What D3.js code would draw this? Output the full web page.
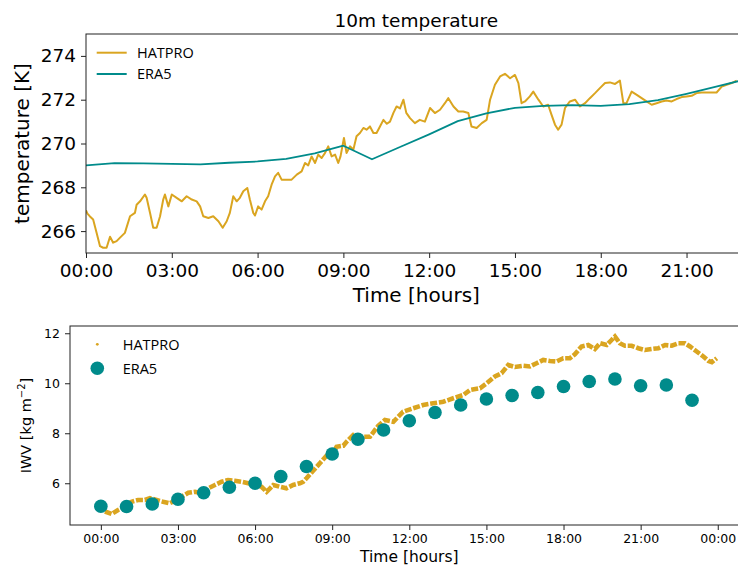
<!DOCTYPE html>
<html>
<head>
<meta charset="utf-8">
<script src="https://cdn.jsdelivr.net/npm/d3@7"></script>
<style>
  body { margin: 0; background: #fff; }
  svg { display: block; font-family: "DejaVu Sans", sans-serif; }
  .tick text { fill: #000; }
  .tick line { stroke: #222; }
</style>
</head>
<body>
<svg id="fig" width="738" height="571"></svg>
<script>
// ---- 10 m temperature (K) ----
const tempHatproHours = [0.00,0.05,0.13,0.25,0.37,0.49,0.60,0.72,0.84,0.95,1.07,1.19,1.36,1.54,1.71,1.77,1.89,2.06,2.12,2.24,2.35,2.47,2.59,2.70,2.76,2.88,3.00,3.17,3.35,3.52,3.70,3.87,3.99,4.10,4.28,4.45,4.63,4.78,4.92,5.03,5.15,5.27,5.38,5.50,5.64,5.73,5.85,5.91,6.02,6.14,6.26,6.37,6.49,6.61,6.72,6.84,7.02,7.19,7.37,7.54,7.66,7.77,7.89,8.01,8.12,8.24,8.36,8.47,8.59,8.71,8.82,8.90,9.02,9.11,9.23,9.35,9.46,9.58,9.70,9.81,9.93,10.05,10.16,10.28,10.40,10.52,10.63,10.75,10.86,10.98,11.10,11.20,11.33,11.50,11.67,11.85,12.03,12.20,12.38,12.55,12.67,12.85,13.02,13.19,13.37,13.48,13.66,13.84,14.01,14.13,14.30,14.48,14.65,14.83,15.00,15.12,15.23,15.35,15.52,15.64,15.82,15.99,16.16,16.28,16.40,16.51,16.63,16.75,16.92,17.10,17.27,17.45,17.62,17.80,17.97,18.15,18.32,18.50,18.67,18.79,18.90,19.08,19.26,19.43,19.60,19.78,19.95,20.13,20.30,20.48,20.65,20.83,21.00,21.18,21.35,21.53,21.70,21.88,22.05,22.23,22.40,22.58,22.75];
const tempHatpro = [266.95,266.80,266.68,266.53,265.93,265.31,265.24,265.24,265.74,265.47,265.54,265.70,265.92,266.68,266.83,267.20,267.36,267.67,267.52,266.83,266.15,266.15,266.68,267.44,267.67,267.13,267.67,267.52,267.36,267.59,267.44,267.36,267.13,266.68,266.60,266.68,266.45,266.15,266.45,266.83,267.59,267.36,267.52,267.82,267.97,267.44,266.83,266.71,267.13,266.98,267.36,267.59,268.12,268.50,268.66,268.35,268.35,268.35,268.58,268.73,269.11,269.00,269.41,269.11,269.49,269.34,269.57,269.87,269.41,269.49,269.11,269.41,270.25,269.57,269.87,269.72,270.33,270.48,270.71,270.63,270.78,270.48,270.48,270.78,271.08,270.90,271.00,271.40,271.69,271.60,272.00,271.40,271.16,270.93,271.08,271.00,271.62,271.39,271.54,271.84,272.07,271.69,271.46,271.46,271.39,270.78,270.71,270.93,271.08,272.00,272.68,273.06,273.18,272.98,273.13,272.76,271.84,271.92,272.15,272.37,272.00,271.69,271.77,271.31,270.86,270.63,270.86,271.62,271.92,272.00,271.69,271.84,272.07,272.30,272.53,272.76,272.79,272.72,272.87,271.84,271.84,272.37,272.22,272.07,271.92,271.77,271.84,271.92,271.96,271.92,272.03,272.12,272.15,272.18,272.30,272.33,272.33,272.33,272.33,272.60,272.68,272.76,272.87];
const tempEra5Hours = [0,1,2,3,4,5,6,7,8,9,10,11,12,13,14,15,16,17,18,19,20,21,22,23];
const tempEra5 = [269.00,269.10,269.09,269.07,269.05,269.12,269.18,269.30,269.55,269.90,269.28,269.85,270.42,271.02,271.38,271.63,271.72,271.75,271.72,271.80,271.98,272.27,272.58,272.91];
const tempYTicks = [266, 268, 270, 272, 274];
const tempXTicks = [0, 3, 6, 9, 12, 15, 18, 21];
const tempXTickLabels = ["00:00","03:00","06:00","09:00","12:00","15:00","18:00","21:00"];
const tempXDomain = [0, 23.1];
const tempYDomain = [265, 275];

// ---- integrated water vapour (kg m-2) ----
const iwvHatproHours = [0.16,0.42,0.67,0.93,1.19,1.45,1.71,1.91,2.17,2.42,2.68,2.88,3.14,3.40,3.66,3.92,4.18,4.44,4.70,4.95,5.21,5.47,5.73,5.99,6.25,6.45,6.71,6.96,7.22,7.48,7.74,7.87,8.00,8.26,8.52,8.78,9.04,9.17,9.43,9.56,9.82,10.14,10.47,10.79,11.05,11.38,11.76,12.15,12.54,12.93,13.32,13.71,14.10,14.36,14.75,15.01,15.33,15.59,15.85,16.11,16.43,16.69,16.95,17.21,17.47,17.73,17.99,18.25,18.44,18.70,18.96,19.22,19.42,19.68,19.87,20.00,20.19,20.39,20.65,20.91,21.17,21.43,21.69,21.95,22.21,22.47,22.72,22.92,23.18,23.44,23.64,23.77,23.96];
const iwvHatpro = [4.87,4.77,4.93,5.06,5.26,5.33,5.33,5.40,5.33,5.26,5.20,5.30,5.46,5.62,5.66,5.60,5.80,5.93,6.06,6.13,6.10,6.06,6.00,5.97,5.86,5.66,5.93,5.86,5.80,5.93,6.00,6.06,6.20,6.50,6.80,7.10,7.20,7.46,7.50,7.66,7.93,7.86,7.86,8.30,8.53,8.46,8.86,9.00,9.13,9.20,9.26,9.40,9.53,9.73,9.80,10.00,10.27,10.40,10.73,10.65,10.70,10.67,10.80,10.93,10.89,10.87,11.00,11.00,11.16,11.47,11.53,11.37,11.60,11.53,11.73,11.87,11.60,11.50,11.50,11.40,11.33,11.37,11.40,11.53,11.50,11.60,11.60,11.47,11.27,11.07,10.89,10.84,11.00];
const iwvEra5Hours = [0,1,2,3,4,5,6,7,8,9,10,11,12,13,14,15,16,17,18,19,20,21,22,23];
const iwvEra5 = [5.08,5.07,5.17,5.36,5.62,5.84,6.00,6.27,6.67,7.17,7.76,8.13,8.50,8.83,9.13,9.37,9.51,9.63,9.87,10.07,10.17,9.90,9.93,9.32];
const iwvYTicks = [6, 8, 10, 12];
const iwvXTicks = [0, 3, 6, 9, 12, 15, 18, 21, 24];
const iwvXTickLabels = ["00:00","03:00","06:00","09:00","12:00","15:00","18:00","21:00","00:00"];
const iwvXDomain = [-1.2, 25.2];
const iwvYDomain = [4.33, 12.29];

const seriesNames = ["HATPRO", "ERA5"];
const GOLD = "#daa520", TEAL = "#008b8b";

const svg = d3.select("#fig");
const defs = svg.append("defs");

function frame(g, x0, y0, x1, y1) {
  g.append("rect").attr("x", x0).attr("y", y0).attr("width", x1 - x0).attr("height", y1 - y0)
    .attr("fill", "none").attr("stroke", "#222").attr("stroke-width", 1);
}

// ===== Panel 1: temperature =====
{
  const L = 86, T = 34, R = 746.6, B = 253;
  const x = d3.scaleLinear().domain(tempXDomain).range([L, R]);
  const y = d3.scaleLinear().domain(tempYDomain).range([B, T]);
  defs.append("clipPath").attr("id", "clipT").append("rect")
    .attr("x", L).attr("y", T).attr("width", R - L).attr("height", B - T);
  const g = svg.append("g");

  const line = d3.line().x(d => x(d[0])).y(d => y(d[1]));
  g.append("path").datum(tempHatproHours.map((h, i) => [h, tempHatpro[i]]))
    .attr("clip-path", "url(#clipT)")
    .attr("fill", "none").attr("stroke", GOLD).attr("stroke-width", 2)
    .attr("stroke-linejoin", "round").attr("d", line);
  g.append("path").datum(tempEra5Hours.map((h, i) => [h, tempEra5[i]]))
    .attr("clip-path", "url(#clipT)")
    .attr("fill", "none").attr("stroke", TEAL).attr("stroke-width", 1.8)
    .attr("stroke-linejoin", "round").attr("d", line);

  const xa = g.append("g").attr("transform", `translate(0,${B})`)
    .call(d3.axisBottom(x).tickValues(tempXTicks)
      .tickFormat((d, i) => tempXTickLabels[i]).tickSize(5).tickPadding(6).tickSizeOuter(0));
  xa.select(".domain").remove();
  xa.selectAll("text").attr("font-size", 18.5).attr("font-family", "DejaVu Sans");

  const ya = g.append("g").attr("transform", `translate(${L},0)`)
    .call(d3.axisLeft(y).tickValues(tempYTicks).tickSize(5).tickPadding(5).tickSizeOuter(0));
  ya.select(".domain").remove();
  ya.selectAll("text").attr("font-size", 18.5).attr("font-family", "DejaVu Sans");

  frame(g, L, T, R, B);

  g.append("text").attr("x", (L + R) / 2).attr("y", 26.5).attr("text-anchor", "middle")
    .attr("font-size", 18.5).text("10m temperature");
  g.append("text").attr("x", (L + R) / 2).attr("y", 302).attr("text-anchor", "middle")
    .attr("font-size", 20).text("Time [hours]");
  g.append("text").attr("transform", `translate(29,${(T + B) / 2}) rotate(-90)`)
    .attr("text-anchor", "middle").attr("font-size", 20).text("temperature [K]");

  // legend
  const lg = g.append("g");
  [GOLD, TEAL].forEach((c, i) => {
    const yy = 52.7 + i * 21.3;
    lg.append("line").attr("x1", 96.7).attr("x2", 126.7).attr("y1", yy).attr("y2", yy)
      .attr("stroke", c).attr("stroke-width", 2);
    lg.append("text").attr("x", 137).attr("y", yy + 5.2).attr("font-size", 14.5)
      .attr("font-family", "Open Sans").text(seriesNames[i]);
  });
}

// ===== Panel 2: IWV =====
{
  const L = 70, T = 326, R = 748.6, B = 525;
  const x = d3.scaleLinear().domain(iwvXDomain).range([L, R]);
  const y = d3.scaleLinear().domain(iwvYDomain).range([B, T]);
  defs.append("clipPath").attr("id", "clipI").append("rect")
    .attr("x", L).attr("y", T).attr("width", R - L).attr("height", B - T);
  const g = svg.append("g");

  // HATPRO retrievals: dense small markers, drawn as a broken thick trace
  const line = d3.line().x(d => x(d[0])).y(d => y(d[1]));
  g.append("path").datum(iwvHatproHours.map((h, i) => [h, iwvHatpro[i]]))
    .attr("clip-path", "url(#clipI)")
    .attr("fill", "none").attr("stroke", GOLD).attr("stroke-width", 4.6)
    .attr("stroke-dasharray", "7 1.8").attr("d", line);

  g.append("g").attr("clip-path", "url(#clipI)").selectAll("circle")
    .data(iwvEra5Hours.map((h, i) => [h, iwvEra5[i]]))
    .join("circle").attr("cx", d => x(d[0])).attr("cy", d => y(d[1]))
    .attr("r", 6.8).attr("fill", TEAL);

  const xa = g.append("g").attr("transform", `translate(0,${B})`)
    .call(d3.axisBottom(x).tickValues(iwvXTicks)
      .tickFormat((d, i) => iwvXTickLabels[i]).tickSize(5).tickPadding(4).tickSizeOuter(0));
  xa.select(".domain").remove();
  xa.selectAll("text").attr("font-size", 12.5).attr("font-family", "DejaVu Sans");

  const ya = g.append("g").attr("transform", `translate(${L},0)`)
    .call(d3.axisLeft(y).tickValues(iwvYTicks).tickSize(5).tickPadding(5).tickSizeOuter(0));
  ya.select(".domain").remove();
  ya.selectAll("text").attr("font-size", 12.5).attr("font-family", "DejaVu Sans");

  frame(g, L, T, R, B);

  g.append("text").attr("x", (L + R) / 2).attr("y", 562).attr("text-anchor", "middle")
    .attr("font-size", 15.5).text("Time [hours]");
  const yl = g.append("text").attr("transform", `translate(30.5,${(T + B) / 2}) rotate(-90)`)
    .attr("text-anchor", "middle").attr("font-size", 14.5);
  yl.append("tspan").text("IWV [kg m");
  yl.append("tspan").attr("dy", -6).attr("font-size", 10).text("\u22122");
  yl.append("tspan").attr("dy", 6).text("]");

  // legend
  g.append("circle").attr("cx", 97.3).attr("cy", 344.3).attr("r", 1.4).attr("fill", GOLD);
  g.append("circle").attr("cx", 97.3).attr("cy", 368.3).attr("r", 6.8).attr("fill", TEAL);
  seriesNames.forEach((n, i) => {
    g.append("text").attr("x", 122.7).attr("y", 344.3 + i * 24 + 5.2).attr("font-size", 14.5)
      .attr("font-family", "Open Sans").text(n);
  });
}
</script>
</body>
</html>
